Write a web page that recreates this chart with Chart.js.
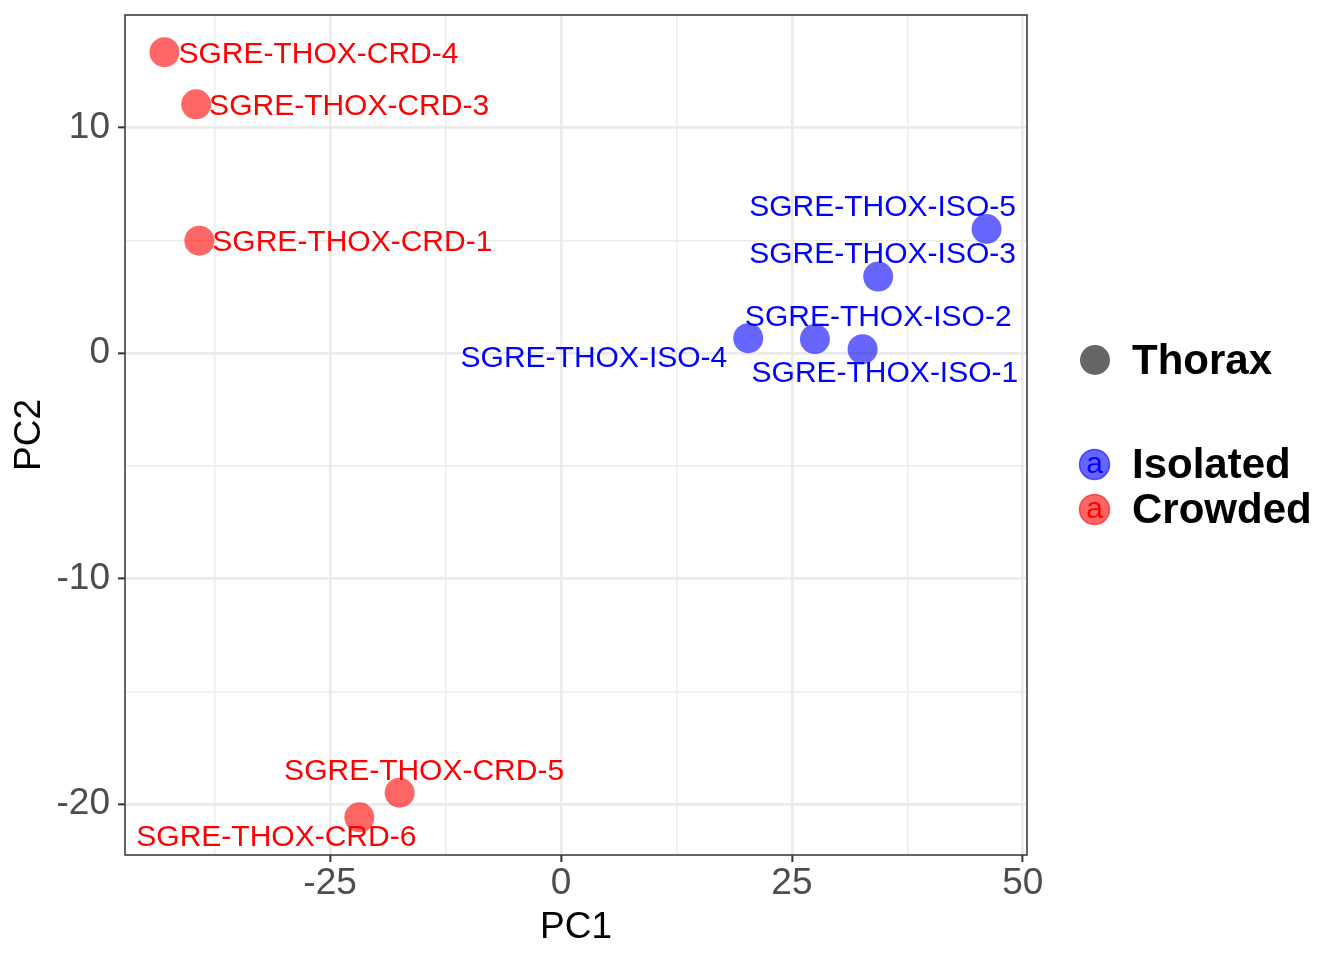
<!DOCTYPE html>
<html>
<head>
<meta charset="utf-8">
<script src="https://cdn.jsdelivr.net/npm/chart.js@4.4.1/dist/chart.umd.min.js"></script>
<style>
html,body{margin:0;padding:0;background:#ffffff;}
#wrap{width:1344px;height:960px;position:relative;}
canvas{display:block;}
</style>
</head>
<body>
<div id="wrap"><canvas id="c" width="1344" height="960" style="width:1344px;height:960px"></canvas></div>
<script>
// ---- data ----
const sampleNames = [
  'SGRE-THOX-CRD-1','SGRE-THOX-CRD-3','SGRE-THOX-CRD-4','SGRE-THOX-CRD-5','SGRE-THOX-CRD-6',
  'SGRE-THOX-ISO-1','SGRE-THOX-ISO-2','SGRE-THOX-ISO-3','SGRE-THOX-ISO-4','SGRE-THOX-ISO-5'
];
const sampleGroups = ['Crowded','Crowded','Crowded','Crowded','Crowded',
                      'Isolated','Isolated','Isolated','Isolated','Isolated'];
const pc1Values = [-39.15, -39.50, -42.93, -17.47, -21.83, 32.65, 27.49, 34.34, 20.27, 46.07];
const pc2Values = [  4.99,  11.04,  13.35, -19.49, -20.58,  0.18,  0.63,  3.40,  0.67,  5.51];
const groupOrder = ['Isolated','Crowded'];
const tissueName = 'Thorax';
const xMajorTicks = [-25, 0, 25, 50];
const xMinorTicks = [-37.5, -12.5, 12.5, 37.5];
const yMajorTicks = [-20, -10, 0, 10];
const yMinorTicks = [-15, -5, 5, 15];
const xAxisTitle = 'PC1';
const yAxisTitle = 'PC2';

// ---- styling / layout (not data) ----
const FONT = "'Liberation Sans', Arial, Helvetica, sans-serif";
const groupFill = { Isolated: 'rgba(0,0,255,0.6)', Crowded: 'rgba(255,0,0,0.6)' };
const groupText = { Isolated: '#0000FF', Crowded: '#FF0000' };
// repelled label offsets (pixels from point centre to label centre)
const labelDx = [153, 153, 154, 24.5, -83, 22.3, 63.3, 4.4, -154.3, -104];
const labelDy = [2, 2.5, 3, -21, 20, 24.7, -21.3, -21.7, 20.2, -21.3];

const datasets = groupOrder.map(g => ({
  label: g,
  data: sampleNames.map((n, i) => ({ x: pc1Values[i], y: pc2Values[i], idx: i }))
                   .filter(p => sampleGroups[p.idx] === g),
  backgroundColor: groupFill[g],
  borderWidth: 0,
  pointRadius: 15,
  pointHoverRadius: 15
}));

const isMajor = (v, arr) => arr.some(m => Math.abs(m - v) < 1e-9);

const labelPlugin = {
  id: 'pointLabels',
  afterDatasetsDraw(chart) {
    const ctx = chart.ctx;
    ctx.save();
    ctx.font = '30px ' + FONT;
    ctx.textAlign = 'center';
    ctx.textBaseline = 'middle';
    chart.data.datasets.forEach((ds, di) => {
      const meta = chart.getDatasetMeta(di);
      meta.data.forEach((el, j) => {
        const i = ds.data[j].idx;
        ctx.fillStyle = groupText[sampleGroups[i]];
        ctx.fillText(sampleNames[i], el.x + labelDx[i], el.y + labelDy[i]);
      });
    });
    ctx.restore();
  },
  afterDraw(chart) {
    const ctx = chart.ctx;
    const a = chart.chartArea;
    ctx.save();
    // panel border
    ctx.strokeStyle = '#333333';
    ctx.lineWidth = 1.5;
    ctx.strokeRect(a.left, a.top, a.right - a.left, a.bottom - a.top);
    // legend: shape (tissue)
    ctx.fillStyle = 'rgba(0,0,0,0.6)';
    ctx.beginPath(); ctx.arc(1095, 360, 15, 0, Math.PI * 2); ctx.fill();
    ctx.fillStyle = '#000000';
    ctx.font = 'bold 42px ' + FONT;
    ctx.textAlign = 'left';
    ctx.textBaseline = 'middle';
    ctx.fillText(tissueName, 1132, 362);
    // legend: colour (group)
    const ys = [464.5, 509.5];
    groupOrder.forEach((g, k) => {
      const y = ys[k];
      ctx.fillStyle = groupFill[g];
      ctx.beginPath(); ctx.arc(1094.5, y, 15, 0, Math.PI * 2); ctx.fill();
      ctx.strokeStyle = groupFill[g];
      ctx.lineWidth = 1.5;
      ctx.stroke();
      ctx.fillStyle = groupText[g];
      ctx.font = '30px ' + FONT;
      ctx.textAlign = 'center';
      ctx.fillText('a', 1094.5, y);
      ctx.fillStyle = '#000000';
      ctx.font = 'bold 42px ' + FONT;
      ctx.textAlign = 'left';
      ctx.fillText(g, 1132, y + 1.5);
    });
    ctx.restore();
  }
};

new Chart(document.getElementById('c'), {
  type: 'scatter',
  data: { datasets },
  plugins: [labelPlugin],
  options: {
    responsive: false,
    animation: false,
    events: [],
    layout: { padding: { left: 0, top: 15, right: 317, bottom: 0 } },
    plugins: { legend: { display: false }, tooltip: { enabled: false } },
    scales: {
      x: {
        type: 'linear',
        min: -47.2,
        max: 50.45,
        afterBuildTicks: s => { s.ticks = xMajorTicks.concat(xMinorTicks).sort((a,b)=>a-b).map(v => ({ value: v })); },
        afterFit: s => { s.height = 105; s.paddingLeft = 0; s.paddingRight = 0; },
        border: { display: false },
        grid: {
          color: '#EBEBEB',
          lineWidth: c => isMajor(c.tick.value, xMajorTicks) ? 2.7 : 1.4,
          tickColor: c => isMajor(c.tick.value, xMajorTicks) ? '#333333' : 'rgba(0,0,0,0)',
          tickLength: 7,
          tickWidth: 2,
          drawTicks: true
        },
        ticks: {
          autoSkip: false,
          maxRotation: 0,
          padding: 0,
          color: '#4D4D4D',
          font: { family: FONT, size: 37 },
          callback: v => isMajor(v, xMajorTicks) ? String(v) : ''
        },
        title: {
          display: true, text: xAxisTitle, color: '#000000',
          font: { family: FONT, size: 37 },
          padding: { top: 0, bottom: 10 }
        }
      },
      y: {
        type: 'linear',
        min: -22.25,
        max: 15.0,
        afterBuildTicks: s => { s.ticks = yMajorTicks.concat(yMinorTicks).sort((a,b)=>a-b).map(v => ({ value: v })); },
        afterFit: s => { s.width = 125; s.paddingTop = 0; s.paddingBottom = 0; },
        border: { display: false },
        grid: {
          color: '#EBEBEB',
          lineWidth: c => isMajor(c.tick.value, yMajorTicks) ? 2.7 : 1.4,
          tickColor: c => isMajor(c.tick.value, yMajorTicks) ? '#333333' : 'rgba(0,0,0,0)',
          tickLength: 7,
          tickWidth: 2,
          drawTicks: true
        },
        ticks: {
          autoSkip: false,
          padding: 8,
          color: '#4D4D4D',
          font: { family: FONT, size: 37 },
          callback: v => isMajor(v, yMajorTicks) ? String(v) : ''
        },
        title: {
          display: true, text: yAxisTitle, color: '#000000',
          font: { family: FONT, size: 37 },
          padding: { top: 8, bottom: 0 }
        }
      }
    }
  }
});
</script>
</body>
</html>
